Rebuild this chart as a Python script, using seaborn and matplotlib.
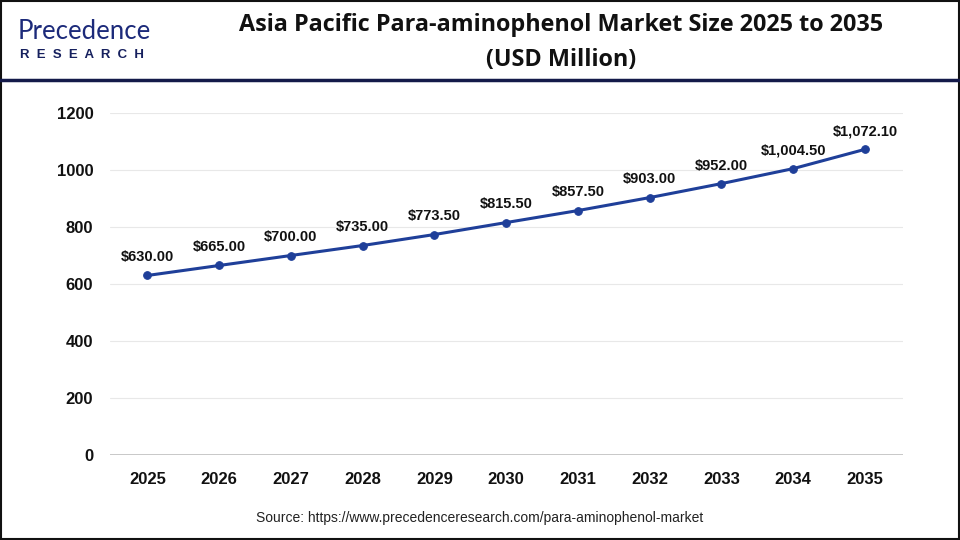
"""
Asia Pacific Para-aminophenol market size line chart
"""

import matplotlib.pyplot as plt
import pandas as pd
import seaborn as sns
from matplotlib.lines import Line2D
from matplotlib.patches import Rectangle

years = [2025, 2026, 2027, 2028, 2029, 2030, 2031, 2032, 2033, 2034, 2035]
market_size = [630.00, 665.00, 700.00, 735.00, 773.50, 815.50, 857.50,
               903.00, 952.00, 1004.50, 1072.10]
y_ticks = [0, 200, 400, 600, 800, 1000, 1200]

title = "Asia Pacific Para-aminophenol Market Size 2025 to 2035\n(USD Million)"
source = "Source: https://www.precedenceresearch.com/para-aminophenol-market"

LINE_COLOR = "#1f3f99"
NAVY = "#141a4a"

df = pd.DataFrame({"year": years, "size": market_size})

sns.set_theme(style="white")
plt.rcParams["font.family"] = ["Liberation Sans", "DejaVu Sans"]

fig = plt.figure(figsize=(9.6, 5.4), dpi=100)
ax = fig.add_axes([110 / 960, 0.157, 793 / 960, 0.634])

ax.axhline(0, color="#c4c4c4", linewidth=1.3, zorder=1)
sns.lineplot(data=df, x="year", y="size", ax=ax, color=LINE_COLOR,
             linewidth=2.2, marker="o", markersize=5.5,
             markeredgecolor=LINE_COLOR, zorder=3)

for x, y in zip(years, market_size):
    ax.annotate(f"${y:,.2f}", (x, y), xytext=(0, 8), textcoords="offset points",
                ha="center", va="bottom", fontsize=10.5, fontweight="bold",
                color="#111111")

ax.set_xlim(2024.48, 2035.53)
ax.set_ylim(0, 1200)
ax.set_xticks(years)
ax.set_yticks(y_ticks)
ax.set_xticklabels([str(y) for y in years], fontsize=12, fontweight="bold")
ax.set_yticklabels([str(t) for t in y_ticks], fontsize=12, fontweight="bold")
ax.tick_params(axis="x", length=0, pad=12, colors="#111111")
ax.tick_params(axis="y", length=0, pad=12, colors="#111111")
ax.set_xlabel("")
ax.set_ylabel("")
ax.yaxis.grid(True, color="#e8e8e8", linewidth=0.8)
ax.set_axisbelow(True)
for spine in ax.spines.values():
    spine.set_visible(False)

# header
fig.text(0.584, 0.921, title, ha="center", va="center", fontsize=16.8,
         fontweight="bold", color="#111111", linespacing=1.6,
         family=["Open Sans", "DejaVu Sans"])
fig.add_artist(Line2D([0, 1], [0.851, 0.851], color=NAVY, linewidth=2.5))

# logo
fig.text(0.018, 0.942, "Precedence", ha="left", va="center", fontsize=18.5,
         color="#1c2a7a", family=["Lato", "DejaVu Sans"])
fig.text(0.021, 0.899, "R  E  S  E  A  R  C  H", ha="left", va="center",
         fontsize=9.5, fontweight="bold", color="#16205e")

fig.text(0.5, 0.041, source, ha="center", va="center", fontsize=10,
         color="#222222")

fig.add_artist(Rectangle((0.001, 0.002), 0.998, 0.996, transform=fig.transFigure,
                         fill=False, edgecolor="#111111", linewidth=1.5))

fig.savefig("out.png", dpi=100)
plt.close(fig)
